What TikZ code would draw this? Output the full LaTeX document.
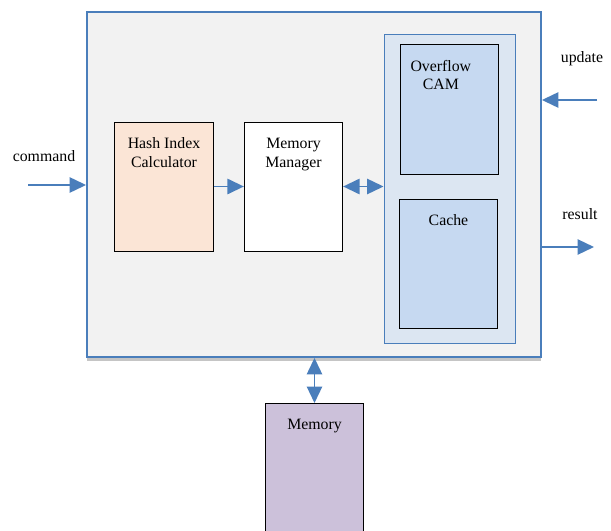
\documentclass[tikz,border=0pt]{standalone}
\usepackage{fontspec}
\setmainfont{Liberation Serif}
\usepackage{tikz}
\usetikzlibrary{arrows.meta,positioning,shadows}
\definecolor{linkblue}{RGB}{74,126,187}
\definecolor{framefill}{RGB}{242,242,242}
\definecolor{hashcolor}{RGB}{251,229,214}
\definecolor{groupcolor}{RGB}{220,230,242}
\definecolor{storecolor}{RGB}{198,217,241}
\definecolor{memcolor}{RGB}{204,193,218}

\begin{document}
\begin{tikzpicture}[x=0.03cm,y=-0.03cm,>={Triangle[length=14pt,width=13pt]},
  every node/.style={font=\fontsize{13.5}{16}\selectfont}]
\tikzset{unit/.style={draw=black,thick,minimum width=2.95cm,minimum height=3.87cm,inner sep=0pt},
  title/.style={anchor=north,yshift=-10.5pt,align=center},
  link/.style={draw=linkblue,line width=1.6pt,color=linkblue}}
\clip (0,0) rectangle (611,531);
\fill[white] (0,0) rectangle (611,531);

\node[draw=linkblue,line width=1.6pt,fill=framefill,minimum width=13.62cm,minimum height=10.35cm,
      drop shadow={shadow xshift=0pt,shadow yshift=-3pt,opacity=0.45}] (outer) at (314,184.5) {};
\node[draw=linkblue,thick,fill=groupcolor,minimum width=3.93cm,minimum height=9.27cm] (group) at (449.5,188.5) {};

\node[unit,fill=hashcolor,label={[title]north:Hash Index\\Calculator}] (hic) at (164,186.5) {};
\node[unit,fill=white,label={[title]north:Memory\\Manager}]            (mm)  at (293.5,186.5) {};
\node[unit,fill=storecolor,minimum height=3.9cm,
      label={[title,xshift=-0.26cm]north:Overflow\\CAM}]               (cam) at (449.5,109) {};
\node[unit,fill=storecolor,label={[title]north:Cache}]                 (cache) at (448.5,263.5) {};
\node[unit,fill=memcolor,minimum height=4.2cm,anchor=north,
      label={[title]north:Memory}]                                      (mem) at (314.5,403) {};

\coordinate (cmd) at (28,185);
\coordinate (upd) at (597,100);
\coordinate (res) at (594,247);
\node (cmdlbl) at (44,156) {command};
\node (updlbl) at (582,59) {update};
\node (reslbl) at (580,214) {result};

\draw[link,->] (cmd) -- (outer.west |- cmd);
\draw[link,->] (hic.east) -- (mm.west);
\draw[link,<->] (mm.east) -- (group.west |- mm.east);
\draw[link,->] (upd) -- (outer.east |- upd);
\draw[link,->] (outer.east |- res) -- (res);
\draw[link,<->] (outer.south -| mem.north) -- (mem.north);
\end{tikzpicture}
\end{document}
